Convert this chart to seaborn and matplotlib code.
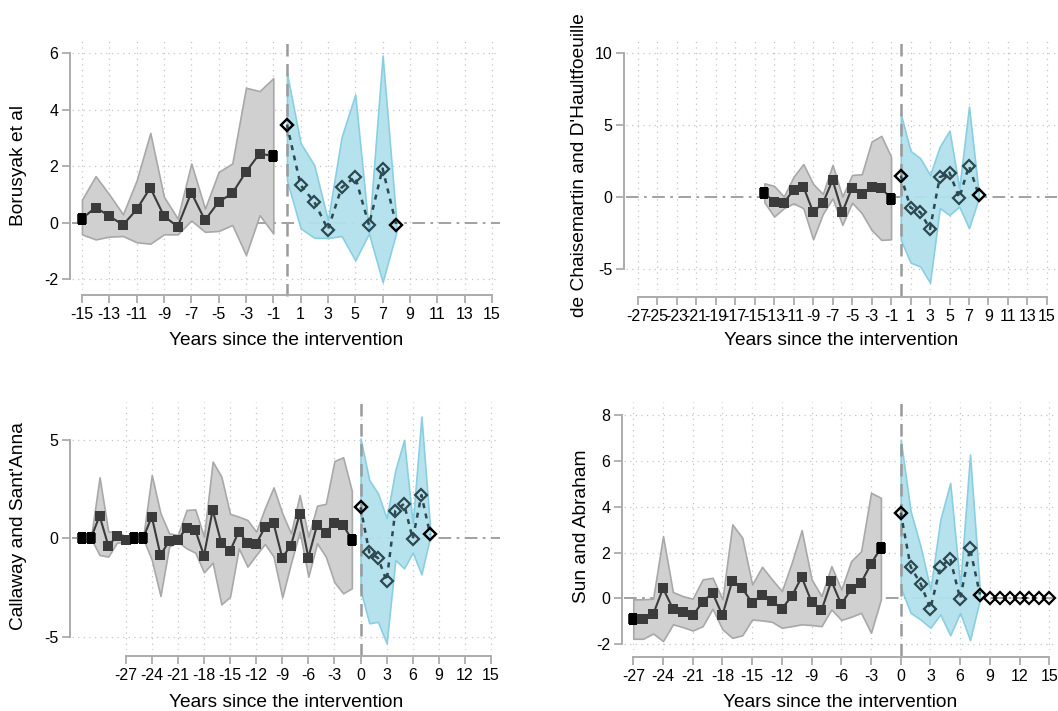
import numpy as np
import pandas as pd
import seaborn as sns
import matplotlib.pyplot as plt

# ---------------- data ----------------
# Panel 1: Borusyak et al
bor_pre_x = list(range(-15, 0))
bor_pre_y = [0.15, 0.54, 0.24, -0.08, 0.47, 1.24, 0.24, -0.14, 1.07, 0.09, 0.74, 1.04, 1.80, 2.45, 2.36]
bor_pre_hi = [0.82, 1.65, 1.00, 0.30, 1.50, 3.18, 0.92, 0.15, 2.10, 0.50, 1.80, 2.10, 4.78, 4.66, 5.12]
bor_pre_lo = [-0.41, -0.59, -0.49, -0.47, -0.69, -0.74, -0.41, -0.41, 0.08, -0.32, -0.29, -0.08, -1.14, 0.27, -0.38]
bor_post_x = list(range(0, 9))
bor_post_y = [3.47, 1.33, 0.74, -0.24, 1.25, 1.62, -0.08, 1.92, -0.08]
bor_post_hi = [5.30, 2.82, 2.04, 0.09, 3.04, 4.54, -0.33, 5.92, 0.10]
bor_post_lo = [1.50, -0.20, -0.53, -0.54, -0.47, -1.33, -0.38, -2.10, -0.35]
bor_hl_x = [-15, -1]
bor_hl_y = [0.15, 2.36]

# Panel 2: de Chaisemartin and D'Haultfoeuille
dch_pre_x = list(range(-14, 0))
dch_pre_y = [0.32, -0.35, -0.37, 0.51, 0.74, -1.02, -0.42, 1.20, -1.04, 0.67, 0.23, 0.74, 0.67, -0.12]
dch_pre_hi = [0.97, 0.79, 0.05, 1.43, 2.31, 0.93, 0.23, 2.25, 0.05, 1.55, 1.60, 3.87, 4.26, 2.82]
dch_pre_lo = [-0.35, -1.34, -0.76, -0.42, -0.76, -2.92, -1.16, -0.07, -1.92, -0.37, -1.11, -2.27, -2.96, -2.92]
dch_post_x = list(range(0, 9))
dch_post_y = [1.50, -0.72, -1.04, -2.20, 1.39, 1.71, -0.05, 2.18, 0.16]
dch_post_hi = [5.79, 3.22, 2.71, 1.55, 3.52, 4.63, 0.63, 6.30, 0.28]
dch_post_lo = [-2.96, -4.54, -4.81, -5.93, -0.76, -1.23, -0.65, -2.15, -0.07]
dch_hl_x = [-14, -1]
dch_hl_y = [0.32, -0.12]

# Panel 3: Callaway and Sant'Anna
cal_pre_x = list(range(-32, 0))
cal_pre_y = [0.0, 0.0, 1.14, -0.37, 0.10, -0.10, 0.0, 0.0, 1.10, -0.85, -0.14, -0.08, 0.54, 0.42,
             -0.88, 1.44, -0.25, -0.64, 0.34, -0.25, -0.29, 0.56, 0.76, -0.98, -0.37, 1.24,
             -0.98, 0.68, 0.29, 0.80, 0.68, -0.08]
cal_pre_hi = [0.0, 0.0, 3.10, 0.34, 0.35, 0.10, 0.0, 0.0, 3.22, 1.27, 0.25, 0.17, 1.44, 1.47,
              0.08, 3.90, 3.14, 1.24, 1.10, 0.93, 0.34, 1.53, 2.59, 1.27, 0.25, 2.20,
              0.08, 1.66, 1.75, 3.93, 4.12, 2.41]
cal_pre_lo = [0.0, 0.0, -0.85, -0.93, -0.22, -0.20, 0.0, 0.0, -1.10, -2.93, -0.42, -0.17, -0.51, -0.73,
              -1.73, -1.24, -3.36, -2.97, -0.51, -1.44, -0.85, -0.29, -0.93, -3.00, -1.27, 0.34,
              -1.95, -0.25, -0.93, -2.24, -2.80, -2.54]
cal_post_x = list(range(0, 9))
cal_post_y = [1.58, -0.71, -1.00, -2.17, 1.41, 1.75, -0.03, 2.20, 0.20]
cal_post_hi = [5.08, 2.97, 2.29, 1.02, 3.47, 5.00, 0.76, 6.19, 0.50]
cal_post_lo = [-2.63, -4.32, -4.25, -5.34, -1.10, -1.53, -0.73, -1.83, 0.08]
cal_hl_x = [-32, -31, -26, -25, -1]
cal_hl_y = [0.0, 0.0, 0.0, 0.0, -0.08]

# Panel 4: Sun and Abraham
sun_pre_x = list(range(-27, -1))
sun_pre_y = [-0.89, -0.89, -0.70, 0.44, -0.45, -0.60, -0.74, -0.16, 0.25, -0.74, 0.78, 0.44, -0.19,
             0.17, -0.12, -0.45, 0.10, 0.93, -0.15, -0.52, 0.76, -0.26, 0.42, 0.68, 1.51, 2.21]
sun_pre_hi = [-0.04, -0.04, -0.01, 2.72, 0.28, 0.10, -0.01, 0.83, 0.90, -0.04, 3.23, 2.65, 0.61,
              1.38, 0.83, 0.32, 1.56, 2.98, 0.83, 0.10, 1.41, 0.39, 1.63, 2.06, 4.61, 4.39]
sun_pre_lo = [-1.76, -1.76, -1.53, -1.86, -1.13, -1.25, -1.40, -1.21, -0.45, -1.35, -1.72, -1.61, -0.92,
              -0.96, -1.02, -1.28, -1.21, -1.13, -1.16, -1.21, -0.48, -0.94, -0.80, -0.63, -1.50, -0.04]
sun_post_x = list(range(0, 9))
sun_post_y = [3.74, 1.38, 0.65, -0.44, 1.37, 1.74, -0.01, 2.18, 0.17]
sun_post_hi = [6.93, 3.81, 2.28, 0.39, 3.44, 5.04, 0.54, 6.28, 0.32]
sun_post_lo = [0.47, -0.63, -0.92, -1.28, -0.70, -1.61, -0.63, -1.82, -0.04]
sun_hl_x = [-27, -2]
sun_hl_y = [-0.89, 2.21]
sun_extra_x = [9, 10, 11, 12, 13, 14, 15]
sun_extra_y = [0, 0, 0, 0, 0, 0, 0]

# tick labels
ticks_odd_15 = list(range(-15, 16, 2))
ticks_odd_27 = list(range(-27, 16, 2))
ticks_3_27 = list(range(-27, 16, 3))

XLABEL = "Years since the intervention"

# ---------------- style ----------------
sns.set_theme(style="white")
plt.rcParams['font.family'] = ['Liberation Sans', 'DejaVu Sans']
plt.rcParams['axes.unicode_minus'] = False

W, H = 1058, 711
fig = plt.figure(figsize=(W / 100, H / 100), dpi=100)

GRID_C = '#c4c4c4'
SPINE_C = '#ababab'
SQ_C = '#3b3b3b'
DIA_C = '#2c4850'
rect_marker = [(-0.32, -0.5), (0.32, -0.5), (0.32, 0.5), (-0.32, 0.5), (-0.32, -0.5)]


def px_axes(l, t, r, b):
    return fig.add_axes([l / W, 1 - b / H, (r - l) / W, (b - t) / H])


def draw(ax, pre_x, pre_y, pre_lo, pre_hi, post_x, post_y, post_lo, post_hi,
         hl_x, hl_y, xlim, ylim, xticks, yticks, ylabel, ylab_x, xlab_y,
         left_off, bottom_off, extra_x=None, extra_y=None):
    ax.set_xlim(*xlim)
    ax.set_ylim(*ylim)
    # dotted grid
    for xt in xticks:
        ax.axvline(xt, color=GRID_C, lw=0.9, ls=(0, (1, 3.5)), zorder=0)
    for yt in yticks:
        if yt != 0:
            ax.axhline(yt, color=GRID_C, lw=0.9, ls=(0, (1, 3.5)), zorder=0)
    ax.axhline(0, color='#9a9a9a', lw=1.3, ls=(0, (7, 3, 1.5, 3)), zorder=1)
    # confidence bands
    ax.fill_between(pre_x, pre_lo, pre_hi, facecolor='#d0d0d0', edgecolor='#a8a8a8',
                    lw=1.2, zorder=2)
    ax.fill_between(post_x, post_lo, post_hi, facecolor='#b2e1ec', edgecolor='#85cde1',
                    lw=1.2, alpha=0.95, zorder=2)
    ax.axvline(0, ymin=-0.025, ymax=1, color='#9a9a9a', lw=1.8, ls=(0, (5, 3)),
               clip_on=False, zorder=2.5)
    # pre-period estimates
    sns.lineplot(x=pre_x, y=pre_y, ax=ax, color=SQ_C, lw=1.5, marker='s',
                 markersize=7, markeredgewidth=0, markerfacecolor=SQ_C,
                 errorbar=None, zorder=4)
    sns.scatterplot(x=hl_x, y=hl_y, ax=ax, marker=rect_marker, color='black',
                    s=70, linewidth=0, zorder=5)
    # post-period estimates
    sns.lineplot(x=post_x, y=post_y, ax=ax, color=DIA_C, lw=1.8,
                 linestyle=(0, (2, 2.2)), marker='D', markersize=6.5,
                 markerfacecolor='none', markeredgecolor=DIA_C, markeredgewidth=1.6,
                 errorbar=None, zorder=4)
    ends_x = [post_x[0], post_x[-1]]
    ends_y = [post_y[0], post_y[-1]]
    if extra_x is not None:
        ends_x = ends_x + list(extra_x)
        ends_y = ends_y + list(extra_y)
    ax.plot(ends_x, ends_y, ls='none', marker='D', markersize=6.5,
            markerfacecolor='none', markeredgecolor='black', markeredgewidth=1.6,
            zorder=5, clip_on=False)
    # axes decoration
    ax.set_xticks(xticks)
    ax.set_xticklabels([str(v) for v in xticks])
    ax.set_yticks(yticks)
    ax.set_yticklabels([str(v) for v in yticks])
    sns.despine(ax=ax, top=True, right=True)
    for s in ('left', 'bottom'):
        ax.spines[s].set_color(SPINE_C)
        ax.spines[s].set_linewidth(1.4)
    ax.spines['left'].set_bounds(yticks[0], yticks[-1])
    ax.spines['bottom'].set_bounds(xticks[0], xticks[-1])
    ax.spines['left'].set_position(('outward', left_off * 0.72))
    ax.spines['bottom'].set_position(('outward', bottom_off * 0.72))
    ax.tick_params(axis='both', which='major', direction='out', length=5.5, width=1.3,
                   color=SPINE_C, labelsize=11.5, labelcolor='black',
                   bottom=True, left=True, pad=3)
    ax.grid(False)
    ax.set_xlabel(XLABEL, fontsize=13.8, color='black')
    ax.xaxis.set_label_coords(0.5, xlab_y)
    ax.xaxis.label.set_va('center')
    ax.set_ylabel(ylabel, fontsize=13.8, color='black')
    ax.yaxis.set_label_coords(ylab_x, 0.5)
    ax.yaxis.label.set_va('center')
    ax.set_facecolor('none')


ax1 = px_axes(72, 40, 500, 290)
draw(ax1, bor_pre_x, bor_pre_y, bor_pre_lo, bor_pre_hi,
     bor_post_x, bor_post_y, bor_post_lo, bor_post_hi, bor_hl_x, bor_hl_y,
     (-15.73, 15.59), (-2.38, 6.47), ticks_odd_15, [-2, 0, 2, 4, 6],
     "Borusyak et al", -0.126, -0.2, 2, 5)

ax2 = px_axes(626, 40, 1057, 290)
draw(ax2, dch_pre_x, dch_pre_y, dch_pre_lo, dch_pre_hi,
     dch_post_x, dch_post_y, dch_post_lo, dch_post_hi, dch_hl_x, dch_hl_y,
     (-28.2, 16.03), (-6.44, 10.92), ticks_odd_27, [-5, 0, 5, 10],
     "de Chaisemartin and D'Haultfoeuille", -0.107, -0.2, 2, 6.7)

ax3 = px_axes(72, 402, 500, 650)
draw(ax3, cal_pre_x, cal_pre_y, cal_pre_lo, cal_pre_hi,
     cal_post_x, cal_post_y, cal_post_lo, cal_post_hi, cal_hl_x, cal_hl_y,
     (-33.17, 16.03), (-5.68, 6.93), ticks_3_27, [-5, 0, 5],
     "Callaway and Sant'Anna", -0.126, -0.21, 2, 6)

ax4 = px_axes(624, 402, 1057, 650)
draw(ax4, sun_pre_x, sun_pre_y, sun_pre_lo, sun_pre_hi,
     sun_post_x, sun_post_y, sun_post_lo, sun_post_hi, sun_hl_x, sun_hl_y,
     (-27.94, 15.78), (-2.25, 8.57), ticks_3_27, [-2, 0, 2, 4, 6, 8],
     "Sun and Abraham", -0.097, -0.21, 1.7, 6.7,
     extra_x=sun_extra_x, extra_y=sun_extra_y)

fig.savefig("out.png", dpi=100, facecolor='white')
